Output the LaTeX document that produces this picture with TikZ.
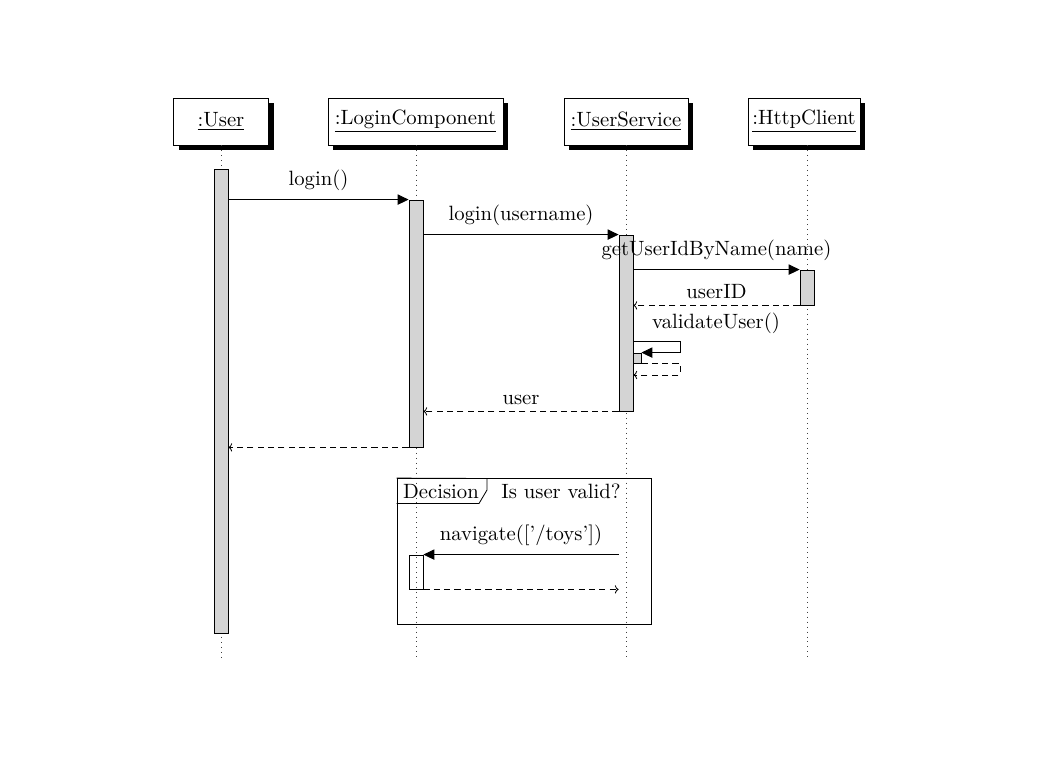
\documentclass[tikz,border=0pt]{standalone}
\usetikzlibrary{arrows.meta,fit,shadows}

% one drawing unit, used for all coordinates
\newcommand{\pxu}{0.4834pt}

\tikzset{
  x=0.4834pt, y=-0.4834pt,
  instance/.style={draw, fill=white, line width=0.45pt, inner sep=0pt,
    minimum height=47*\pxu,
    drop shadow={shadow xshift=5*\pxu, shadow yshift=-5*\pxu, fill=black, opacity=1}},
  lifeline/.style={dotted, line width=0.4pt, black!75},
  actbar/.style={draw, fill=black!17, inner sep=0pt, line width=0.4pt},
  emptybar/.style={draw, inner sep=0pt, line width=0.4pt},
  call/.style={line width=0.4pt, -{Triangle[length=5.3pt,width=5pt]}},
  ret/.style={line width=0.4pt, dash pattern=on 3pt off 2pt, -{To[length=1.8pt,width=4pt]}},
  calllabel/.style={midway, anchor=base, yshift=6.8pt, inner sep=0pt},
  retlabel/.style={midway, anchor=base, yshift=3.4pt, inner sep=0pt},
  framebox/.style={draw, inner sep=0pt, line width=0.4pt},
}

\begin{document}
\begin{tikzpicture}
  \useasboundingbox (0,0) rectangle (1047,758);

  % participants
  \node[instance, minimum width=95*\pxu]  (user)  at (221,121.5)   {\underline{:User}};
  \node[instance, minimum width=175*\pxu] (login) at (415.5,121.5) {\underline{:LoginComponent}};
  \node[instance, minimum width=124*\pxu] (usvc)  at (626,121.5)   {\underline{:UserService}};
  \node[instance, minimum width=112*\pxu] (http)  at (804,121.5)   {\underline{:HttpClient}};

  \coordinate (bottom) at (0,660);

  % activation bars (geometry only, drawn after the lifelines)
  \path (214,169) coordinate (ub1) (228,633) coordinate (ub2)
        (409,200) coordinate (lb1) (423,447) coordinate (lb2)
        (619,235) coordinate (sb1) (633,411) coordinate (sb2)
        (800,270) coordinate (hb1) (814,305) coordinate (hb2)
        (633,353) coordinate (vb1) (641,363) coordinate (vb2)
        (409,555) coordinate (nb1) (423,589) coordinate (nb2);

  % lifelines
  \draw[lifeline] (user.south)   -- (user.south |- bottom);
  \draw[lifeline] (416,145) coordinate (llt) -- (llt |- bottom);
  \draw[lifeline] (626,145) coordinate (slt) -- (slt |- bottom);
  \draw[lifeline] (807,145) coordinate (hlt) -- (hlt |- bottom);

  % bars
  \node[actbar, fit=(ub1)(ub2)] (ubar) {};
  \node[actbar, fit=(lb1)(lb2)] (lbar) {};
  \node[actbar, fit=(sb1)(sb2)] (sbar) {};
  \node[actbar, fit=(hb1)(hb2)] (hbar) {};
  \node[actbar, fit=(vb1)(vb2)] (vbar) {};
  \node[emptybar, fit=(nb1)(nb2)] (nbar) {};

  % messages
  \draw[call] (ubar.east |- lbar.north) -- (lbar.north west)
    node[calllabel] (m1) {login()};
  \draw[call] (lbar.east |- sbar.north) -- (sbar.north west)
    node[calllabel] (m2) {login(username)};
  \draw[call] (sbar.east |- hbar.north) -- (hbar.north west)
    node[calllabel] (m3) {getUserIdByName(name)};
  \draw[ret] (hbar.south west) -- (sbar.east |- hbar.south)
    node[retlabel] (m4) {userID};

  % self call
  \coordinate (vtop) at (680,341.5);
  \coordinate (vbot) at (680,375);
  \node[anchor=base, inner sep=0pt] (m5) at (716,328) {validateUser()};
  \draw[call] (sbar.east |- vtop) -- (vtop) |- (vbar.north east);
  \draw[ret] (vbar.south east) -| (vbot) -- (sbar.east |- vbot);

  \draw[ret] (sbar.south west) -- (lbar.east |- sbar.south)
    node[retlabel] (m6) {user};
  \draw[ret] (lbar.south west) -- (ubar.east |- lbar.south);

  % decision fragment
  \path (397,478.5) coordinate (f1) (651,624) coordinate (f2);
  \node[framebox, fit=(f1)(f2)] (frame) {};
  \draw[line width=0.4pt] (frame.north west) -- (487,478.5) coordinate (t1)
    -- (487,490) coordinate (t2) -- (479,503.5) coordinate (t3)
    -- (frame.west |- t3);
  \node[anchor=base, inner sep=0pt] (dlabel) at (441,498) {Decision};
  \node[anchor=base, inner sep=0pt] (dcond)  at (561,498) {Is user valid?};

  \draw[call] (sbar.west |- nbar.north) -- (nbar.north east)
    node[calllabel] (m7) {navigate(['/toys'])};
  \draw[ret] (nbar.south east) -- (sbar.west |- nbar.south);
\end{tikzpicture}
\end{document}
